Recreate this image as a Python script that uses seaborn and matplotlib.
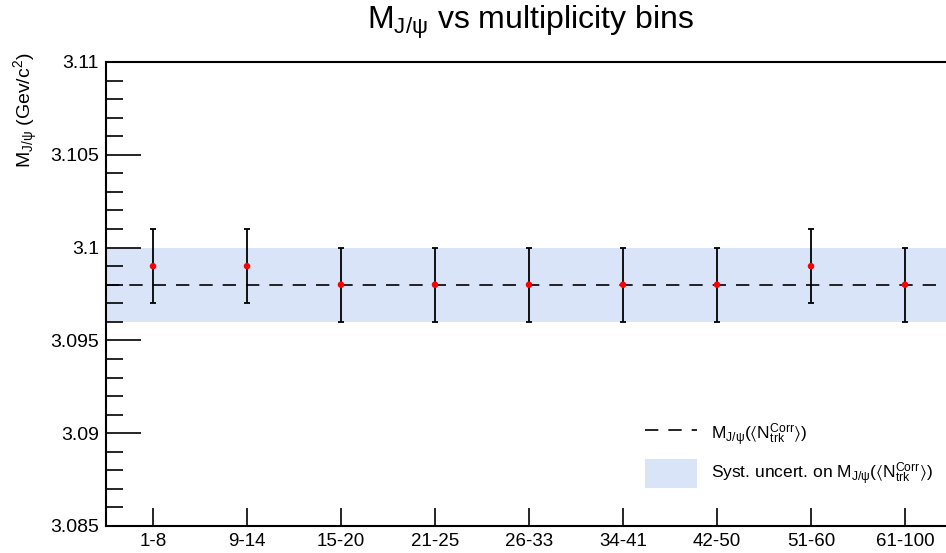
import numpy as np
import matplotlib
matplotlib.use("Agg")
import matplotlib.pyplot as plt
import seaborn as sns
from matplotlib.ticker import MultipleLocator, FuncFormatter
from matplotlib.lines import Line2D
from matplotlib.patches import Patch

# data
bins = ["1-8", "9-14", "15-20", "21-25", "26-33", "34-41", "42-50", "51-60", "61-100"]
mass = [3.099, 3.099, 3.098, 3.098, 3.098, 3.098, 3.098, 3.099, 3.098]
mass_err = [0.002, 0.002, 0.002, 0.002, 0.002, 0.002, 0.002, 0.002, 0.002]
mass_ref = 3.098
syst_lo, syst_hi = 3.096, 3.100

sns.set_style("ticks", {"axes.edgecolor": "black", "text.color": "black",
                        "axes.labelcolor": "black", "xtick.color": "black",
                        "ytick.color": "black"})
plt.rcParams["font.family"] = ["Liberation Sans", "DejaVu Sans"]
plt.rcParams["mathtext.fontset"] = "custom"
plt.rcParams["mathtext.rm"] = "Liberation Sans"
plt.rcParams["mathtext.default"] = "regular"

fig = plt.figure(figsize=(9.46, 5.53), dpi=100)
ax = fig.add_axes([106 / 946, 27 / 553, (952 - 106) / 946, (526 - 62) / 553])

xs = np.arange(len(bins))
dash = (0, (8, 6))
ax.axhspan(syst_lo, syst_hi, color="#d9e4f9", lw=0, zorder=0)
ax.axhline(mass_ref, color="black", ls=dash, lw=1.2, zorder=1)
ax.errorbar(xs, mass, yerr=mass_err, fmt="none", ecolor="black", elinewidth=1.3,
            capsize=2, capthick=1.3, zorder=2)
sns.scatterplot(x=xs, y=mass, color="red", s=22, edgecolor="none", zorder=3, ax=ax)

ax.set_xlim(-0.5, len(bins) - 0.5)
ax.set_ylim(3.085, 3.11)
ax.set_xticks(xs)
ax.set_xticklabels(bins, fontsize=13.5)
ax.yaxis.set_major_locator(MultipleLocator(0.005))
ax.yaxis.set_minor_locator(MultipleLocator(0.001))
ax.yaxis.set_major_formatter(FuncFormatter(lambda v, p: f"{v:g}"))
ax.tick_params(axis="y", which="major", direction="in", length=25, width=1.2, labelsize=14, pad=5)
ax.tick_params(axis="y", which="minor", direction="in", length=12, width=1.2)
ax.tick_params(axis="x", which="major", direction="in", length=13, width=1.2, pad=5)

for s in ["left", "bottom", "top"]:
    ax.spines[s].set_linewidth(1.5)
ax.spines["right"].set_visible(False)

ax.set_ylabel(r"$M_{J/\psi}$ (Gev/c$^{2}$)", fontsize=14, loc="top")
ax.yaxis.set_label_coords(-0.078, 1.02)
fig.text(530 / 946, 1 - 22 / 553, r"$M_{J/\psi}$ vs multiplicity bins", fontsize=23,
         ha="center", va="center")

handles = [Line2D([0], [0], color="black", ls=dash, lw=1.2),
           Patch(facecolor="#d9e4f9", edgecolor="none")]
labels = [r"$M_{J/\psi}(\langle N_{trk}^{Corr}\rangle)$",
          r"Syst. uncert. on $M_{J/\psi}(\langle N_{trk}^{Corr}\rangle)$"]
fig.legend(handles, labels, loc="upper left", bbox_to_anchor=(629 / 946, 1 - 404 / 553),
           frameon=False, fontsize=12.5, handlelength=3.0, handleheight=2.2,
           labelspacing=0.6, handletextpad=0.8)

fig.savefig("out.png", dpi=100)
